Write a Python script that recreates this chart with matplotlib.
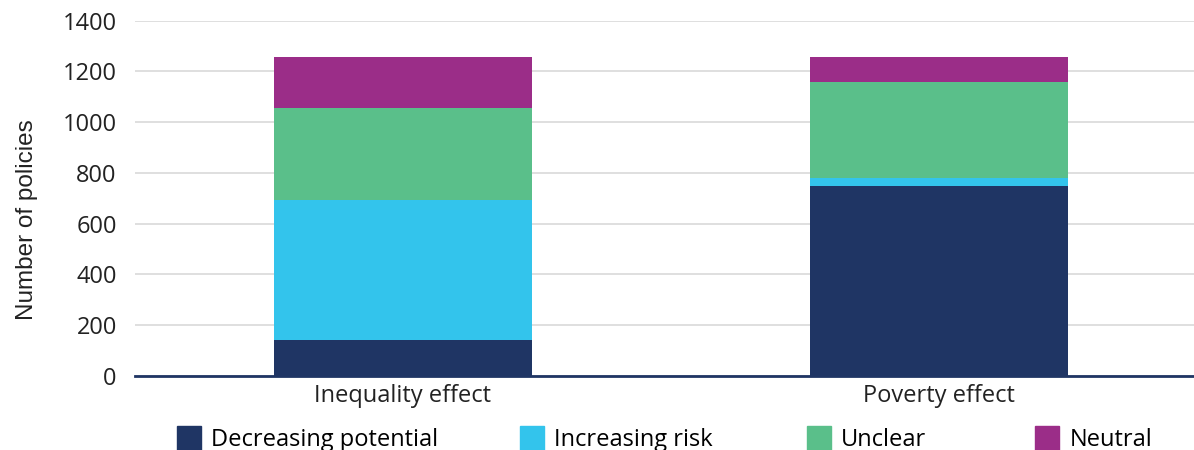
import matplotlib
matplotlib.use("Agg")
import matplotlib.pyplot as plt
from matplotlib.lines import Line2D

categories = ["Inequality effect", "Poverty effect"]
series_names = ["Decreasing potential", "Increasing risk", "Unclear", "Neutral"]
decreasing = [141, 748]
increasing = [552, 32]
unclear = [363, 378]
neutral = [201, 99]
yticks = [0, 200, 400, 600, 800, 1000, 1200, 1400]

colors = ["#1F3564", "#33C4EC", "#5ABF8A", "#9B2D88"]
values = [decreasing, increasing, unclear, neutral]
legend_x = [0.1474, 0.4347, 0.675, 0.866]

plt.rcParams['font.family'] = ['Open Sans', 'DejaVu Sans']

fig = plt.figure(figsize=(11.94, 4.5), dpi=100)
ax = fig.add_axes([0.113, 0.165, 0.887, 0.789])

x = list(range(len(categories)))
bottom = [0] * len(categories)
for vals, col, name in zip(values, colors, series_names):
    ax.bar(x, vals, width=0.481, bottom=bottom, color=col, label=name, zorder=3)
    bottom = [b + v for b, v in zip(bottom, vals)]

ax.set_ylim(0, 1400)
ax.set_xlim(-0.5, 1.476)
ax.set_yticks(yticks)
ax.set_yticklabels([str(t) for t in yticks])
ax.set_xticks(x)
ax.set_xticklabels(categories)
ax.yaxis.grid(True, color="#d9d9d9", linewidth=1.2, zorder=0)
ax.set_axisbelow(True)
for s in ["left", "right", "top"]:
    ax.spines[s].set_visible(False)
ax.spines["bottom"].set_color("#1F3564")
ax.spines["bottom"].set_linewidth(2)
ax.spines["bottom"].set_zorder(4)
ax.tick_params(axis="both", length=0, labelsize=17, colors="#222222")
ax.tick_params(axis="y", pad=13)
ax.tick_params(axis="x", pad=6)
ax.set_ylabel("Number of policies", fontsize=17.5, color="#222222",
              family=["Liberation Sans", "DejaVu Sans"])
ax.yaxis.set_label_coords(-0.0916, 0.4386)

for name, col, lx in zip(series_names, colors, legend_x):
    h = Line2D([0], [0], marker="s", linestyle="none", markersize=17,
               markerfacecolor=col, markeredgecolor=col)
    fig.legend([h], [name], loc="center left", bbox_to_anchor=(lx, 0.022),
               frameon=False, fontsize=17, borderpad=0, borderaxespad=0,
               handletextpad=0.4, handlelength=1.1)

fig.savefig("out.png", dpi=100)
